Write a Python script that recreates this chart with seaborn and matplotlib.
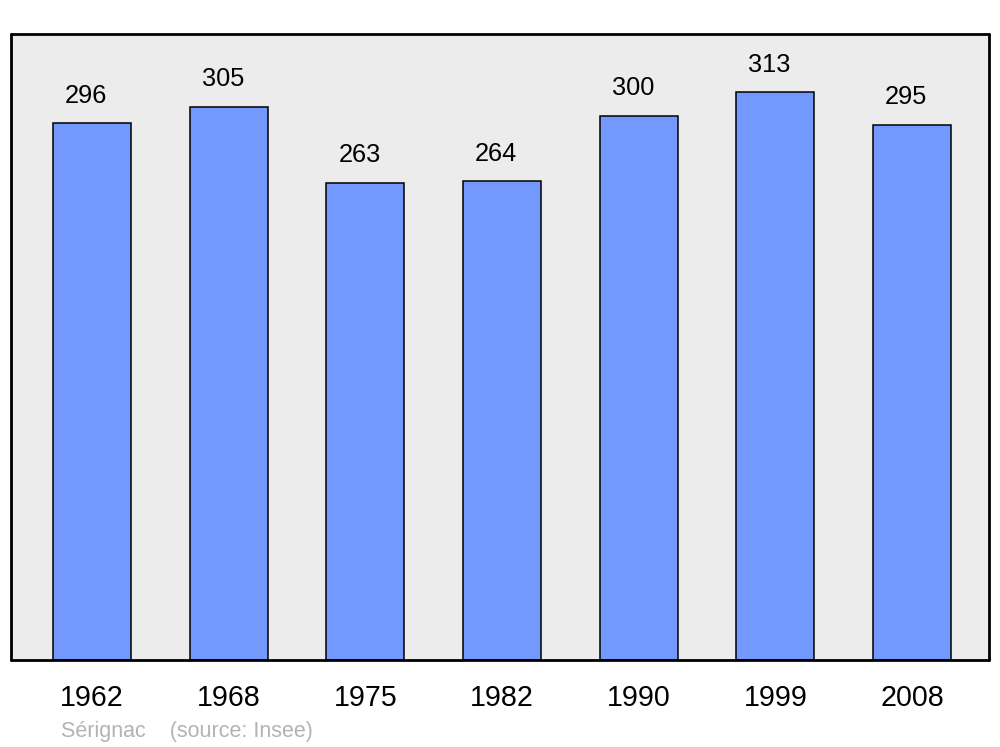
import matplotlib
matplotlib.use("Agg")
import matplotlib.pyplot as plt
import seaborn as sns
import pandas as pd

years = ["1962", "1968", "1975", "1982", "1990", "1999", "2008"]
population = [296, 305, 263, 264, 300, 313, 295]
caption = "Sérignac    (source: Insee)"

sns.set_style("white")
plt.rcParams['font.family'] = ['Liberation Sans', 'DejaVu Sans']

df = pd.DataFrame({"year": years, "pop": population})

fig = plt.figure(figsize=(10, 7.47), dpi=100)
ax = fig.add_axes([0.011, 0.1165, 0.978, 0.838])
ax.set_facecolor("#ececec")

sns.barplot(data=df, x="year", y="pop", color="#7399ff", saturation=1,
            width=0.57, edgecolor="black", linewidth=1.1, ax=ax)

for i, v in enumerate(population):
    ax.annotate(str(v), xy=(i, v), xytext=(-4.3, 11), textcoords="offset points",
                ha="center", va="bottom", fontsize=18.3, color="black")

ax.set_xlim(-0.593, 6.563)
ax.set_ylim(0, 345)
ax.set_xlabel("")
ax.set_ylabel("")
ax.set_yticks([])
ax.tick_params(axis="x", length=0, pad=17, labelsize=20.6, labelcolor="black")
for s in ax.spines.values():
    s.set_visible(True)
    s.set_linewidth(2)
    s.set_color("black")
    s.set_capstyle("round")

fig.text(0.061, 0.0134, caption, fontsize=15.5, color="#b3b3b3", ha="left", va="baseline")

fig.savefig("out.png", dpi=100, facecolor="white")
